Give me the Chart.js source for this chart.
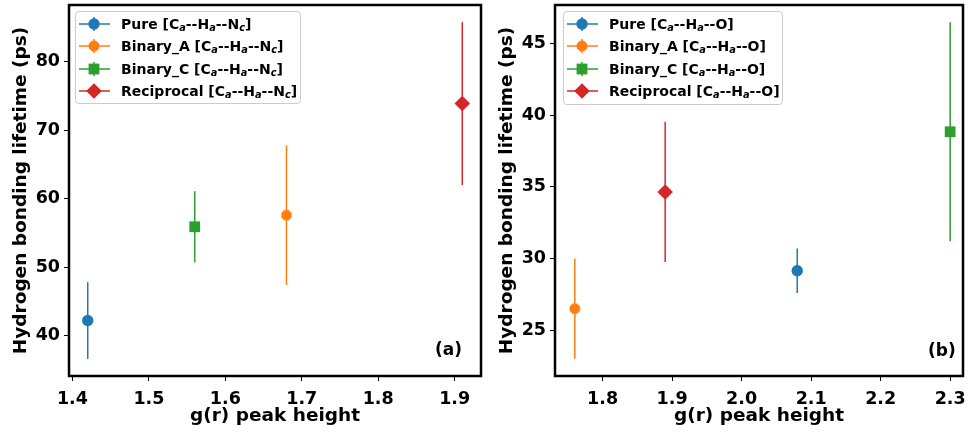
<!DOCTYPE html>
<html>
<head>
<meta charset="utf-8">
<script src="https://cdn.jsdelivr.net/npm/chart.js@4.4.1/dist/chart.umd.min.js"></script>
<style>
  html, body { margin: 0; padding: 0; background: #fff; }
  #wrap { position: relative; width: 968px; height: 432px; overflow: hidden; font-family: "DejaVu Sans", sans-serif; color: #000; }
  #wrap canvas { position: absolute; top: 0; }
  .legend { position: absolute; box-sizing: border-box; border: 1px solid #cccccc; border-radius: 4px;
            background: rgba(255,255,255,0.8); font-weight: bold; font-size: 14px; padding-top: 1px; }
  .row { height: 22.3px; display: flex; align-items: center; white-space: nowrap; }
  .row svg { flex: none; }
  .row span { line-height: 22px; }
  sub { font-size: 70%; font-style: italic; vertical-align: -0.25em; line-height: 0; }
  .tag { position: absolute; font-weight: bold; font-size: 17px; line-height: 20px; }
</style>
</head>
<body>
<div id="wrap">
  <canvas id="panelA" width="484" height="432" style="left:0"></canvas>
  <canvas id="panelB" width="484" height="432" style="left:484px"></canvas>
  <div class="legend" id="legA" style="left:75px; top:11px; width:226px; height:93px;"></div>
  <div class="legend" id="legB" style="left:563px; top:11px; width:220px; height:94px;"></div>
  <div class="tag" style="left:435px; top:339px;">(a)</div>
  <div class="tag" style="left:928px; top:340px;">(b)</div>
</div>
<script>
// Series shared by both panels
const seriesNames = ['Pure', 'Binary_A', 'Binary_C', 'Reciprocal'];
const seriesColors = ['#1f77b4', '#ff7f0e', '#2ca02c', '#d62728'];
const seriesMarkers = ['circle', 'octagon', 'rect', 'rectRot'];

// Panel (a): Ca--Ha--Nc hydrogen bonds
const peakN = [1.42, 1.68, 1.56, 1.91];
const lifeN = [42.2, 57.6, 55.9, 73.9];
const errN  = [5.6, 10.2, 5.2, 11.9];
const xTicksN = [1.4, 1.5, 1.6, 1.7, 1.8, 1.9];
const yTicksN = [40, 50, 60, 70, 80];

// Panel (b): Ca--Ha--O hydrogen bonds
const peakO = [2.08, 1.76, 2.30, 1.89];
const lifeO = [29.15, 26.5, 38.85, 34.65];
const errO  = [1.55, 3.5, 7.65, 4.9];
const xTicksO = [1.8, 1.9, 2.0, 2.1, 2.2, 2.3];
const yTicksO = [25, 30, 35, 40, 45];

const xTitle = 'g(r) peak height';
const yTitle = 'Hydrogen bonding lifetime (ps)';

Chart.defaults.font.family = '"DejaVu Sans", sans-serif';
Chart.defaults.font.weight = 'bold';
Chart.defaults.color = '#000';

function octagonImage(r, color) {
  const s = Math.ceil(2 * r + 2);
  const c = document.createElement('canvas');
  c.width = c.height = s;
  const g = c.getContext('2d');
  g.fillStyle = color;
  g.beginPath();
  for (let k = 0; k < 8; k++) {
    const a = Math.PI / 8 + k * Math.PI / 4;
    const px = s / 2 + r * Math.cos(a), py = s / 2 + r * Math.sin(a);
    if (k) g.lineTo(px, py); else g.moveTo(px, py);
  }
  g.closePath();
  g.fill();
  return c;
}

const markerRadius = { circle: 5.7, octagon: 5.6, rect: 7.6, rectRot: 7.8 };

// vertical error bars, drawn under the markers
const errorBars = {
  id: 'errorBars',
  beforeDatasetsDraw(chart) {
    const { ctx, scales: { x, y } } = chart;
    ctx.save();
    ctx.lineWidth = 1.5;
    chart.data.datasets.forEach(ds => {
      const p = ds.data[0];
      const px = x.getPixelForValue(p.x);
      ctx.strokeStyle = ds.backgroundColor;
      ctx.beginPath();
      ctx.moveTo(px, y.getPixelForValue(p.y - ds.yErr));
      ctx.lineTo(px, y.getPixelForValue(p.y + ds.yErr));
      ctx.stroke();
    });
    ctx.restore();
  }
};

// black frame around the plotting area
const frame = {
  id: 'frame',
  afterDraw(chart) {
    const { ctx, chartArea: a } = chart;
    ctx.save();
    ctx.strokeStyle = '#000';
    ctx.lineWidth = 2.5;
    ctx.strokeRect(a.left, a.top, a.right - a.left, a.bottom - a.top);
    ctx.restore();
  }
};

function makePanel(canvasId, xs, ys, errs, xTicks, yTicks, lim, geom) {
  const datasets = seriesNames.map((name, i) => {
    const m = seriesMarkers[i];
    return {
      label: name,
      data: [{ x: xs[i], y: ys[i] }],
      yErr: errs[i],
      backgroundColor: seriesColors[i],
      borderWidth: 0,
      pointStyle: m === 'octagon' ? octagonImage(markerRadius[m], seriesColors[i]) : m,
      pointRadius: markerRadius[m],
      pointHoverRadius: markerRadius[m]
    };
  });
  const grid = { display: true, drawOnChartArea: false, drawTicks: true, tickLength: 5, color: '#000', lineWidth: 1 };
  return new Chart(document.getElementById(canvasId), {
    type: 'scatter',
    data: { datasets },
    options: {
      responsive: false,
      animation: false,
      devicePixelRatio: 1,
      layout: { autoPadding: false, padding: { top: 5, right: 484 - geom.right, left: 0, bottom: 0 } },
      plugins: { legend: { display: false }, tooltip: { enabled: false } },
      scales: {
        x: {
          type: 'linear', min: lim.xmin, max: lim.xmax,
          grid, border: { display: false },
          afterFit: s => { s.height = 56; s.paddingLeft = 0; s.paddingRight = 0; },
          afterBuildTicks: s => { s.ticks = xTicks.map(v => ({ value: v })); },
          ticks: { font: { size: 17.5 }, padding: 8, maxRotation: 0, autoSkip: false,
                   callback: v => Number(v).toFixed(1) },
          title: { display: true, text: xTitle, font: { size: 18.5 }, padding: { top: 0, bottom: 5 } }
        },
        y: {
          type: 'linear', min: lim.ymin, max: lim.ymax,
          grid, border: { display: false },
          afterFit: s => { s.width = geom.left; s.paddingTop = 0; s.paddingBottom = 0; },
          afterBuildTicks: s => { s.ticks = yTicks.map(v => ({ value: v })); },
          ticks: { font: { size: 17.5 }, padding: 4, autoSkip: false, callback: v => String(v) },
          title: { display: true, text: yTitle, font: { size: 18.5 }, padding: { top: geom.yTitlePad, bottom: 0 } }
        }
      }
    },
    plugins: [errorBars, frame]
  });
}

makePanel('panelA', peakN, lifeN, errN, xTicksN, yTicksN,
  { xmin: 1.3955, xmax: 1.9345, ymin: 34.1, ymax: 88.3 },
  { left: 69, right: 481, yTitlePad: 10 });
makePanel('panelB', peakO, lifeO, errO, xTicksO, yTicksO,
  { xmin: 1.7315, xmax: 2.3185, ymin: 21.8, ymax: 47.7 },
  { left: 71, right: 479, yTitlePad: 12 });

// legends with subscripted bond labels
function markerSvg(kind, color) {
  const cx = 18, cy = 11;
  let shape;
  if (kind === 'circle') shape = `<circle cx="${cx}" cy="${cy}" r="5.7" fill="${color}"/>`;
  else if (kind === 'rect') shape = `<rect x="${cx - 5.4}" y="${cy - 5.4}" width="10.8" height="10.8" fill="${color}"/>`;
  else if (kind === 'rectRot') shape = `<polygon points="${cx - 7.8},${cy} ${cx},${cy - 7.8} ${cx + 7.8},${cy} ${cx},${cy + 7.8}" fill="${color}"/>`;
  else {
    const pts = [];
    for (let k = 0; k < 8; k++) {
      const a = Math.PI / 8 + k * Math.PI / 4;
      pts.push((cx + 5.6 * Math.cos(a)).toFixed(2) + ',' + (cy + 5.6 * Math.sin(a)).toFixed(2));
    }
    shape = `<polygon points="${pts.join(' ')}" fill="${color}"/>`;
  }
  return `<svg width="45" height="22" viewBox="0 0 45 22">
    <line x1="3" y1="${cy}" x2="34" y2="${cy}" stroke="${color}" stroke-width="1.5"/>
    <line x1="${cx}" y1="${cy - 7}" x2="${cx}" y2="${cy + 7}" stroke="${color}" stroke-width="1.5"/>
    ${shape}</svg>`;
}

function fillLegend(id, acceptor) {
  const el = document.getElementById(id);
  el.innerHTML = seriesNames.map((name, i) =>
    `<div class="row">${markerSvg(seriesMarkers[i], seriesColors[i])}<span>${name} [C<sub>a</sub>--H<sub>a</sub>--${acceptor}]</span></div>`
  ).join('');
}
fillLegend('legA', 'N<sub>c</sub>');
fillLegend('legB', 'O');
</script>
</body>
</html>
